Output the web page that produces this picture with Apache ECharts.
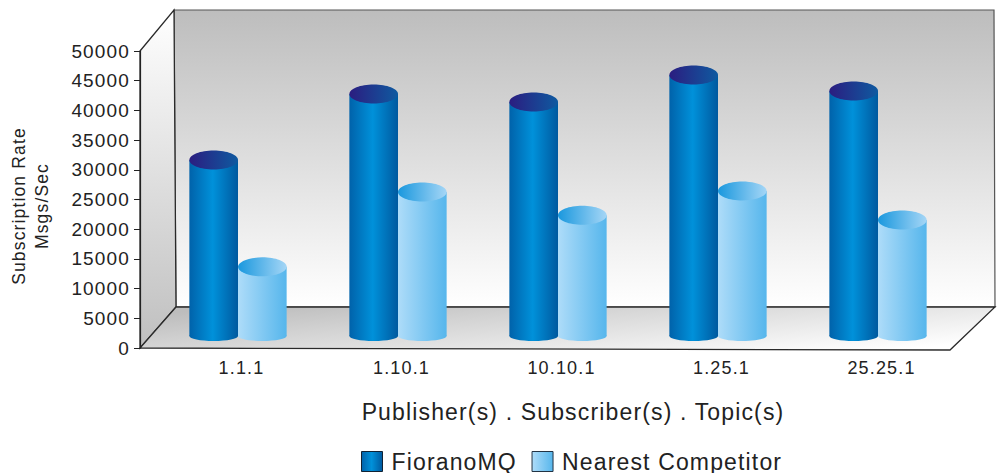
<!DOCTYPE html>
<html><head><meta charset="utf-8">
<style>html,body{margin:0;padding:0;background:#fff}#c{width:1000px;height:473px}svg text{letter-spacing:1.15px}</style>
<script src="https://cdn.jsdelivr.net/npm/echarts@6/dist/echarts.min.js"></script>
</head><body><div id="c"></div>
<script>
const categories = ['1.1.1','1.10.1','10.10.1','1.25.1','25.25.1'];
const fioranoMQ = [28800,39900,38550,43100,40400];
const nearestCompetitor = [10800,23400,19500,23570,18700];
const yTicks = {min:0,max:50000,interval:5000};

const LG = echarts.graphic.LinearGradient;
const h = stops => new LG(0,0,1,0,stops.map(c=>({offset:c[0],color:c[1]})));
const v = stops => new LG(0,0,0,1,stops.map(c=>({offset:c[0],color:c[1]})));
const darkBody = () => h([[0,'#0062aa'],[0.48,'#0091da'],[1,'#00599f']]);
const darkTop  = () => h([[0,'#2b1d80'],[1,'#0f5aa0']]);
const lightBody= () => h([[0,'#aedcf9'],[1,'#56b6ec']]);
const lightTop = () => h([[0,'#1a98de'],[1,'#a5d6f6']]);

const FLOOR_LIFT = 17, TOP_RY = 9.5, BOT_RY = 5, BOT_DROP = 5, WIDTH_RATIO = 0.304;

function cyl(side, body, top){
  return function(params, api){
    const i = api.value(0), val = api.value(1);
    const band = api.size([1,0])[0];
    const w = band*WIDTH_RATIO;
    const cx = api.coord([i,0])[0] + side*w/2;
    const base = api.coord([i,0])[1] - FLOOR_LIFT;
    const topY = api.coord([i,val])[1] - FLOOR_LIFT;
    return {type:'group',children:[
      {type:'ellipse',shape:{cx:cx,cy:base+BOT_DROP,rx:w/2,ry:BOT_RY},style:{fill:body()}},
      {type:'rect',shape:{x:cx-w/2,y:topY,width:w,height:base+BOT_DROP-topY},style:{fill:body()}},
      {type:'ellipse',shape:{cx:cx,cy:topY,rx:w/2,ry:TOP_RY},style:{fill:top()}}
    ]};
  };
}

const chart = echarts.init(document.getElementById('c'),null,{renderer:'svg'});
const edge = {stroke:'#2a2a2a',lineWidth:1.3};
const FONT = 'Liberation Sans';
chart.setOption({
  animation:false,
  backgroundColor:'#fff',
  textStyle:{fontFamily:FONT},
  grid:{left:158,width:800,top:51,height:297,containLabel:false,outerBoundsMode:'none'},
  legend:{
    left:361,top:450,padding:0,itemWidth:21,itemHeight:20,itemGap:25,icon:'rect',
    textStyle:{fontSize:23,color:'#222',fontFamily:FONT,padding:[0,0,0,4]},
    data:[
      {name:'FioranoMQ',itemStyle:{color:darkBody(),borderColor:'#123',borderWidth:1}},
      {name:'Nearest Competitor',itemStyle:{color:lightBody(),borderColor:'#234',borderWidth:1}}
    ]
  },
  graphic:{elements:[
    {type:'polygon',z:-10,silent:true,shape:{points:[[174,10],[994,10],[995,307],[176,307]]},
      style:{fill:v([[0,'#bdbdbd'],[1,'#ffffff']]),stroke:'#555',lineWidth:1.2}},
    {type:'polygon',z:-10,silent:true,shape:{points:[[140,51],[174,10],[176,307],[140,348]]},
      style:Object.assign({fill:v([[0,'#ffffff'],[1,'#bfbfbf']])},edge)},
    {type:'polygon',z:-10,silent:true,shape:{points:[[176,307],[995,307],[950,350],[140,348]]},
      style:Object.assign({fill:new LG(0,0.2,1,0.8,[{offset:0,color:'#bdbdbd'},{offset:0.3,color:'#d2d2d2'},{offset:1,color:'#ffffff'}])},edge)}
  ]},
  xAxis:{
    type:'category',data:categories,
    axisLine:{show:false},axisTick:{show:false},splitLine:{show:false},
    axisLabel:{fontSize:18,color:'#222',margin:11,padding:[0,0,0,7],fontFamily:FONT},
    name:'Publisher(s) . Subscriber(s) . Topic(s)',nameLocation:'middle',nameGap:52,
    nameTextStyle:{fontSize:23,color:'#222',padding:[0,0,0,30],fontFamily:FONT}
  },
  yAxis:{
    type:'value',min:yTicks.min,max:yTicks.max,interval:yTicks.interval,offset:18,
    axisLine:{show:true,lineStyle:{color:'#222',width:1.2}},
    axisTick:{show:true,length:6,lineStyle:{color:'#222'}},
    splitLine:{show:false},
    axisLabel:{fontSize:19,color:'#222',margin:10,fontFamily:FONT,formatter:function(x){return String(x);}},
    name:'Subscription Rate\nMsgs/Sec',nameLocation:'middle',nameRotate:90,nameGap:87,
    nameTextStyle:{fontSize:17.5,color:'#222',lineHeight:23,align:'center',fontFamily:FONT,padding:[0,13,0,0]}
  },
  series:[
    {name:'FioranoMQ',type:'custom',clip:false,z:3,itemStyle:{color:darkBody()},
      renderItem:cyl(-1,darkBody,darkTop),encode:{x:0,y:1},data:fioranoMQ.map((d,i)=>[i,d])},
    {name:'Nearest Competitor',type:'custom',clip:false,z:4,itemStyle:{color:lightBody()},
      renderItem:cyl(1,lightBody,lightTop),encode:{x:0,y:1},data:nearestCompetitor.map((d,i)=>[i,d])}
  ]
});
</script></body></html>
